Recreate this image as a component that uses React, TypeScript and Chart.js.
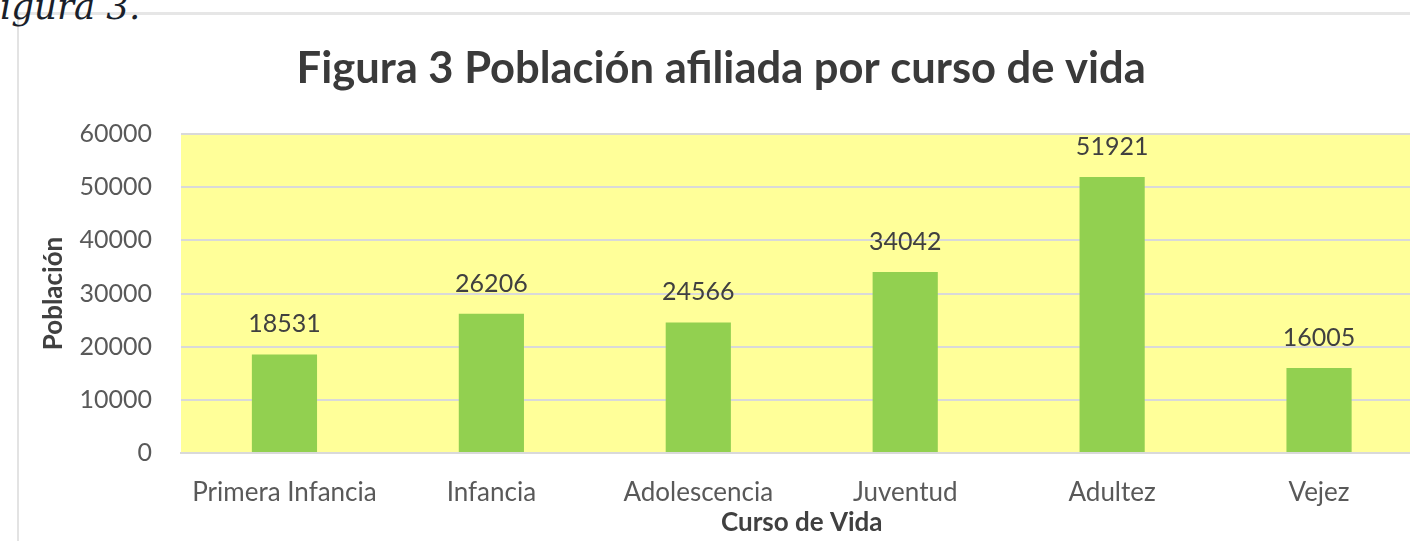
import React, { useEffect, useRef } from "react";
import { Chart, registerables } from "chart.js";

Chart.register(...registerables);

const categories = ["Primera Infancia", "Infancia", "Adolescencia", "Juventud", "Adultez", "Vejez"];
const poblacion = [18531, 26206, 24566, 34042, 51921, 16005];
const yTicks = [0, 10000, 20000, 30000, 40000, 50000, 60000];

const chartTitle = "Figura 3 Población afiliada por curso de vida";
const xTitle = "Curso de Vida";
const yTitle = "Población";
const captionText = "igura 3.";

const FONT = "Lato";

export default function App() {
  const ref = useRef<HTMLCanvasElement | null>(null);

  useEffect(() => {
    if (!ref.current) return;
    const plotBg = {
      id: "plotBg",
      beforeDraw(chart: any) {
        const { ctx, chartArea } = chart;
        ctx.save();
        ctx.fillStyle = "#FFFF99";
        ctx.fillRect(chartArea.left, chartArea.top, chartArea.right - chartArea.left, chartArea.bottom - chartArea.top);
        ctx.restore();
      },
    };
    const valueLabels = {
      id: "valueLabels",
      afterDatasetsDraw(chart: any) {
        const { ctx } = chart;
        const meta = chart.getDatasetMeta(0);
        const data = chart.data.datasets[0].data;
        ctx.save();
        ctx.font = `25px ${FONT}`;
        ctx.fillStyle = "#404040";
        ctx.textAlign = "center";
        ctx.textBaseline = "alphabetic";
        meta.data.forEach((bar: any, i: number) => {
          ctx.fillText(String(data[i]), bar.x, bar.y - 22);
        });
        ctx.restore();
      },
    };

    const chart = new Chart(ref.current, {
      type: "bar",
      data: {
        labels: categories,
        datasets: [
          {
            data: poblacion,
            backgroundColor: "#92D050",
            borderWidth: 0,
            categoryPercentage: 1,
            barPercentage: 0.315,
          },
        ],
      },
      options: {
        responsive: false,
        animation: false,
        layout: { padding: { left: 20, right: 17.5, top: 0, bottom: 3 } },
        plugins: {
          legend: { display: false },
          tooltip: { enabled: false },
          title: {
            display: true,
            text: chartTitle,
            color: "#3a3a3a",
            font: { family: FONT, size: 43.5, weight: "bold", lineHeight: 1.2 },
            padding: { top: 43, bottom: 38.8 },
          },
        },
        scales: {
          x: {
            grid: { display: false, drawTicks: false },
            border: { display: true, color: "#D9D9D9", width: 2 },
            ticks: { color: "#595959", font: { family: FONT, size: 26 }, padding: 24, maxRotation: 0, autoSkip: false },
            title: {
              display: true,
              text: xTitle,
              color: "#404040",
              font: { family: FONT, size: 26, weight: "bold", lineHeight: 1.2 },
              padding: 0,
            },
            afterFit(scale: any) {
              scale.height = 541 - 3 - 453;
            },
          },
          y: {
            min: 0,
            max: 60000,
            afterBuildTicks(scale: any) {
              scale.ticks = yTicks.map((v) => ({ value: v }));
            },
            grid: { color: "#D9D9D9", lineWidth: 2, drawTicks: false },
            border: { display: false },
            ticks: {
              color: "#595959",
              font: { family: FONT, size: 25 },
              padding: 29,
              callback: (v: any) => String(v),
            },
            title: {
              display: true,
              text: yTitle,
              color: "#404040",
              font: { family: FONT, size: 26, weight: "bold", lineHeight: 1.2 },
              padding: { top: 18, bottom: 0 },
            },
            afterFit(scale: any) {
              scale.width = 181 - 20;
            },
          },
        },
      },
      plugins: [plotBg, valueLabels],
    });
    return () => chart.destroy();
  }, []);

  return (
    <div style={{ position: "fixed", left: 0, top: 0, width: 1410, height: 541, overflow: "hidden", background: "#fff" }}>
      <div
        style={{
          position: "absolute",
          left: 17,
          top: 12,
          width: 2000,
          height: 1000,
          borderLeft: "2px solid #E3E3E3",
          borderTop: "3px solid #E6E6E6",
        }}
      />
      <div
        style={{
          position: "absolute",
          left: 0,
          top: -10,
          fontFamily: "'DejaVu Serif', serif",
          fontStyle: "italic",
          fontSize: 35.5,
          lineHeight: "34px",
          color: "#1a1f2b",
          whiteSpace: "nowrap",
        }}
      >
        {captionText}
      </div>
      <canvas ref={ref} width={1440} height={541} style={{ position: "absolute", left: 0, top: 0, width: 1440, height: 541 }} />
    </div>
  );
}
